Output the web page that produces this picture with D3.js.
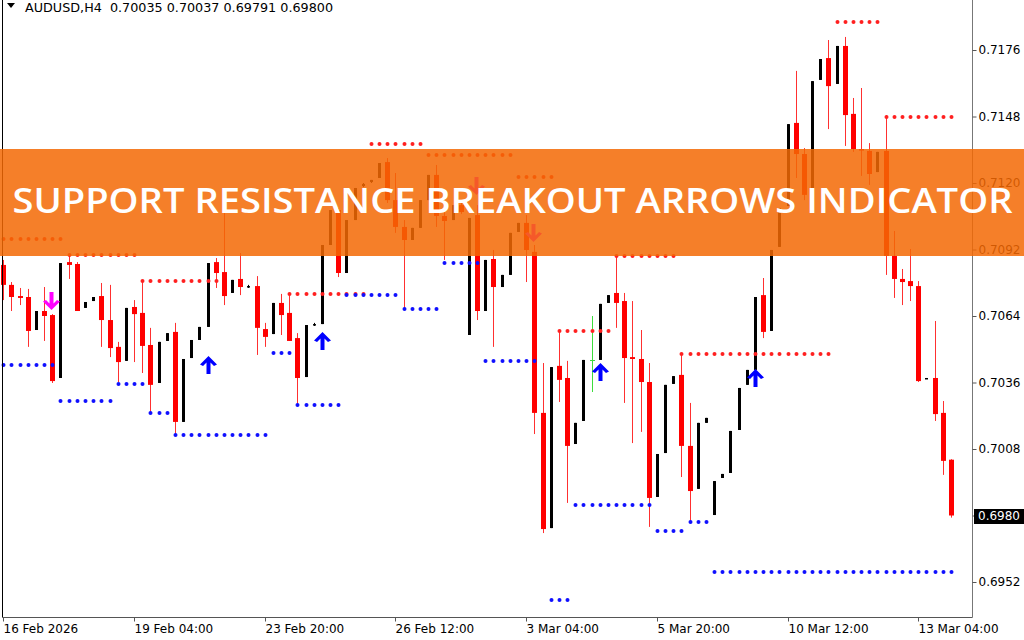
<!DOCTYPE html>
<html><head><meta charset="utf-8">
<script src="https://cdn.jsdelivr.net/npm/d3@7"></script>
<style>html,body{margin:0;padding:0;background:#fff;overflow:hidden}</style>
</head><body>
<svg id="chart" width="1024" height="640"></svg>
<script>
// ---------- DATA ----------
const symbolTitle = "AUDUSD,H4";
const lastBarOHLC = ["0.70035", "0.70037", "0.69791", "0.69800"];
const priceTicks = [0.6952, 0.6980, 0.7008, 0.7036, 0.7064, 0.7092, 0.7120, 0.7148, 0.7176];
const timeTickBars = [0, 16, 32, 48, 64, 80, 96, 112];
const timeTickLabels = ["16 Feb 2026", "19 Feb 04:00", "23 Feb 20:00", "26 Feb 12:00", "3 Mar 04:00", "5 Mar 20:00", "10 Mar 12:00", "13 Mar 04:00"];

const openPrices = [
.70855,.70771,.70724,.70720,.70581,.70661,.70644,.70379,.70867,.70859,
.70674,.70703,.70724,.70623,.70510,.70451,.70678,.70653,.70518,.70358,
.70535,.70573,.70194,.70463,.70539,.70594,.70867,.70825,.70737,.70796,
.70762,.70766,.70585,.70564,.70695,.70653,.70547,.70383,.70602,.70606,
.70939,.71086,.70821,.71044,.71187,.71204,.71221,.71288,.71128,.71015,
.70960,.71011,.71128,.71234,.71061,.71044,.71107,.70560,.71065,.70661,
.70880,.70762,.70813,.70994,.71032,.70910,.70232,.69747,.70430,.70379,
.70101,.70198,.70455,.70455,.70695,.70737,.70703,.70467,.70459,.70362,
.69878,.70063,.70354,.70392,.70093,.69912,.70190,.69802,.69958,.69979,
.70160,.70350,.70413,.70728,.70577,.70931,.71103,.71453,.71322,.71150,
.71634,.71726,.71617,.71777,.71491,.71343,.71335,.71246,.71335,.70893,
.70796,.70787,.70766,.70375,.70379,.70232,.70035];
const highPrices = [
.70876,.70783,.70758,.70754,.70661,.70762,.70648,.70863,.70905,.70867,
.70699,.70720,.70779,.70771,.70531,.70674,.70707,.70787,.70590,.70531,
.70568,.70611,.70459,.70539,.70594,.70863,.70884,.71074,.70792,.70905,
.70771,.70808,.70611,.70695,.70733,.70737,.70568,.70602,.70611,.70939,
.71086,.71095,.71044,.71179,.71200,.71213,.71284,.71305,.71242,.71044,
.71011,.71128,.71234,.71276,.71086,.71107,.71116,.71053,.71107,.70876,
.70918,.70813,.70990,.71032,.71065,.70939,.70442,.70425,.70581,.70451,
.70190,.70455,.70640,.70691,.70728,.70897,.70737,.70703,.70581,.70442,
.70059,.70350,.70387,.70476,.70274,.70190,.70211,.69945,.69975,.70156,
.70337,.70413,.70720,.70800,.70918,.71095,.71448,.71672,.71347,.71629,
.71722,.71802,.71777,.71815,.71558,.71600,.71368,.71331,.71486,.70998,
.70838,.70922,.70787,.70379,.70619,.70282,.70037];
const lowPrices = [
.70707,.70661,.70686,.70510,.70581,.70535,.70358,.70379,.70796,.70661,
.70674,.70703,.70510,.70467,.70362,.70451,.70446,.70400,.70232,.70358,
.70535,.70139,.70194,.70463,.70539,.70594,.70758,.70686,.70737,.70728,
.70758,.70476,.70510,.70564,.70560,.70535,.70265,.70383,.70598,.70606,
.70939,.70804,.70821,.71044,.71183,.71200,.71221,.71116,.70990,.70665,
.70960,.71011,.71128,.71015,.70876,.71044,.71070,.70560,.70623,.70661,
.70510,.70762,.70813,.70994,.70783,.70143,.69726,.69747,.70278,.69853,
.70101,.70198,.70320,.70455,.70695,.70590,.70274,.70105,.70152,.69752,
.69878,.70063,.70354,.69962,.69768,.69912,.70190,.69802,.69958,.69979,
.70160,.70350,.70413,.70547,.70577,.70931,.71103,.71221,.71128,.71150,
.71634,.71427,.71617,.71356,.71331,.71230,.71192,.71246,.70813,.70716,
.70686,.70703,.70362,.70375,.70198,.69971,.69791];
const closePrices = [
.70771,.70720,.70716,.70577,.70661,.70640,.70366,.70863,.70855,.70661,
.70699,.70720,.70623,.70505,.70446,.70674,.70648,.70514,.70350,.70531,
.70568,.70194,.70459,.70539,.70594,.70863,.70821,.70724,.70792,.70762,
.70766,.70590,.70552,.70695,.70644,.70535,.70379,.70602,.70606,.70939,
.71086,.70821,.71044,.71179,.71196,.71213,.71284,.71128,.71015,.70960,
.71011,.71128,.71234,.71061,.71040,.71107,.71078,.71053,.70661,.70876,
.70762,.70813,.70990,.71032,.70918,.70232,.69743,.70425,.70371,.70093,
.70190,.70455,.70455,.70691,.70728,.70695,.70463,.70459,.70362,.69874,
.70059,.70350,.70387,.70093,.69903,.70190,.70211,.69945,.69975,.70156,
.70337,.70413,.70720,.70573,.70918,.71095,.71448,.71322,.71150,.71629,
.71722,.71608,.71777,.71486,.71343,.71339,.71238,.71331,.70893,.70796,
.70783,.70766,.70366,.70379,.70227,.70030,.69800];

// [firstBar, lastBar, price]
const supportLevels = [[0,6,.70434],[7,13,.70282],[14,17,.70354],[18,20,.70232],[21,32,.70139],[33,35,.70484],[36,41,.70265],[42,48,.70728],[49,53,.70670],[54,58,.70863],[59,65,.70451],[67,69,.69444],[70,79,.69844],[80,83,.69735],[84,86,.69773],[87,116,.69562]];
const resistanceLevels = [[0,7,.70964],[8,16,.70897],[17,26,.70787],[35,44,.70733],[45,51,.71364],[52,62,.71318],[63,67,.71225],[68,74,.70577],[75,82,.70893],[83,101,.70480],[102,107,.71878],[108,116,.71478]];
// [bar, price of arrow tip]
const buyArrows = [[25,.70472],[39,.70573],[73,.70442],[92,.70417]];
const sellArrows = [[6,.70665],[58,.71150],[65,.70952]];
const lastPrice = 0.6980;
const bannerText = "SUPPORT RESISTANCE BREAKOUT ARROWS INDICATOR";

// ---------- CHART ----------
const svg = d3.select("#chart");
const plotLeft = 2.5, plotRight = 972.5, plotBottom = 617.5;
const x = d3.scaleLinear().domain([0, 116]).range([3.3, 951]);
const y = d3.scaleLinear().domain([0.6952, 0.7176]).range([582, 50]);
const bars = d3.range(openPrices.length).map(i => ({
  i, o: openPrices[i], h: highPrices[i], l: lowPrices[i], c: closePrices[i]
}));
const cx = i => Math.round(x(i));
const colorOf = d => d.c > d.o ? "#000" : (d.c < d.o ? "#ff0000" : "#3ddc3d");

const plot = svg.append("g");

// wicks
plot.selectAll("line.wick").data(bars).join("line")
  .attr("x1", d => cx(d.i) + 0.5).attr("x2", d => cx(d.i) + 0.5)
  .attr("y1", d => y(d.h)).attr("y2", d => y(d.l))
  .attr("stroke", d => d.c < d.o ? "#ff3030" : colorOf(d)).attr("stroke-width", 1);

// bodies
plot.selectAll("rect.body").data(bars.filter(d => d.c !== d.o)).join("rect")
  .attr("x", d => d.c > d.o ? cx(d.i) - 1 : cx(d.i) - 2)
  .attr("width", d => d.c > d.o ? 3 : 5)
  .attr("y", d => y(Math.max(d.o, d.c)))
  .attr("height", d => Math.max(1.5, y(Math.min(d.o, d.c)) - y(Math.max(d.o, d.c))))
  .attr("fill", colorOf);
// doji ticks
plot.selectAll("line.doji").data(bars.filter(d => d.c === d.o)).join("line")
  .attr("x1", d => cx(d.i) - 2).attr("x2", d => cx(d.i) + 3)
  .attr("y1", d => Math.round(y(d.o)) + 0.5).attr("y2", d => Math.round(y(d.o)) + 0.5)
  .attr("stroke", "#3ddc3d");

// support / resistance dots
function dots(levels, color) {
  const pts = [];
  levels.forEach(([a, b, p]) => { for (let k = a; k <= b; k++) pts.push([k, p]); });
  plot.append("g").selectAll("circle").data(pts).join("circle")
    .attr("cx", d => cx(d[0]) + 0.5).attr("cy", d => y(d[1]))
    .attr("r", 2).attr("fill", color);
}
dots(resistanceLevels, "#ff2020");
dots(supportLevels, "#1010ff");

// arrows (Wingdings-like thick arrow)
const upArrow = "M0,0 L8.5,8.5 L5.5,10 L2,6.5 L2,18 L-2,18 L-2,6.5 L-5.5,10 L-8.5,8.5 Z";
plot.selectAll("path.buy").data(buyArrows).join("path")
  .attr("transform", d => `translate(${cx(d[0]) + 0.5},${y(d[1])})`)
  .attr("d", upArrow).attr("fill", "#0000ff");
plot.selectAll("path.sell").data(sellArrows).join("path")
  .attr("transform", d => `translate(${cx(d[0]) - 0.5},${y(d[1])}) scale(1,-1)`)
  .attr("d", upArrow).attr("fill", "#ff00ff");

// frame
svg.append("line").attr("x1", plotLeft).attr("x2", plotLeft).attr("y1", 0).attr("y2", plotBottom).attr("stroke", "#000");
svg.append("line").attr("x1", plotLeft).attr("x2", plotRight).attr("y1", plotBottom).attr("y2", plotBottom).attr("stroke", "#555");
svg.append("line").attr("x1", plotRight).attr("x2", plotRight).attr("y1", 0).attr("y2", plotBottom).attr("stroke", "#777");

// y axis
const yAxis = d3.axisRight(y).tickValues(priceTicks).tickFormat(d3.format(".4f")).tickSize(4).tickPadding(2);
const yg = svg.append("g").attr("transform", `translate(${plotRight},0)`).call(yAxis);
yg.select(".domain").remove();
yg.selectAll(".tick line").attr("stroke", "#555");
yg.selectAll(".tick text").attr("font-family", "DejaVu Sans, Verdana, sans-serif").attr("font-size", 12).attr("fill", "#000");

// x axis
const xAxis = d3.axisBottom(x).tickValues(timeTickBars).tickFormat((d, k) => timeTickLabels[k]).tickSize(4).tickPadding(3);
const xg = svg.append("g").attr("transform", `translate(0,${plotBottom})`).call(xAxis);
xg.select(".domain").remove();
xg.selectAll(".tick").attr("transform", d => `translate(${cx(d) + 0.5},0)`);
xg.selectAll(".tick line").attr("stroke", "#555");
xg.selectAll(".tick text").attr("text-anchor", "start").attr("x", 0)
  .attr("font-family", "DejaVu Sans, Verdana, sans-serif").attr("font-size", 12).attr("fill", "#000");

// current price label
svg.append("rect").attr("x", 974).attr("y", Math.round(y(lastPrice)) - 7).attr("width", 50).attr("height", 15).attr("fill", "#000");
svg.append("text").attr("x", 978).attr("y", y(lastPrice)).attr("dy", "0.35em")
  .attr("font-family", "DejaVu Sans, Verdana, sans-serif").attr("font-size", 12).attr("fill", "#fff")
  .text(d3.format(".4f")(lastPrice));

// header
svg.append("path").attr("d", "M7,3 L15,3 L11,8 Z").attr("fill", "#000");
svg.append("text").attr("x", 25).attr("y", 11.5)
  .attr("font-family", "DejaVu Sans, Verdana, sans-serif").attr("font-size", 12).attr("fill", "#000")
  .attr("textLength", 308).attr("lengthAdjust", "spacingAndGlyphs")
  .attr("xml:space", "preserve")
  .text(symbolTitle + "  " + lastBarOHLC.join(" "));

// banner overlay
svg.append("rect").attr("x", 0).attr("y", 149).attr("width", 1024).attr("height", 107)
  .attr("fill", "rgb(243,104,4)").attr("fill-opacity", 0.85);
svg.append("text").attr("x", 512.5).attr("y", 213).attr("text-anchor", "middle")
  .attr("font-family", "Open Sans, Lato, sans-serif").attr("font-weight", 600).attr("font-size", 35)
  .attr("fill", "#fff").attr("textLength", 1000).attr("lengthAdjust", "spacingAndGlyphs")
  .text(bannerText);
</script>
</body></html>
